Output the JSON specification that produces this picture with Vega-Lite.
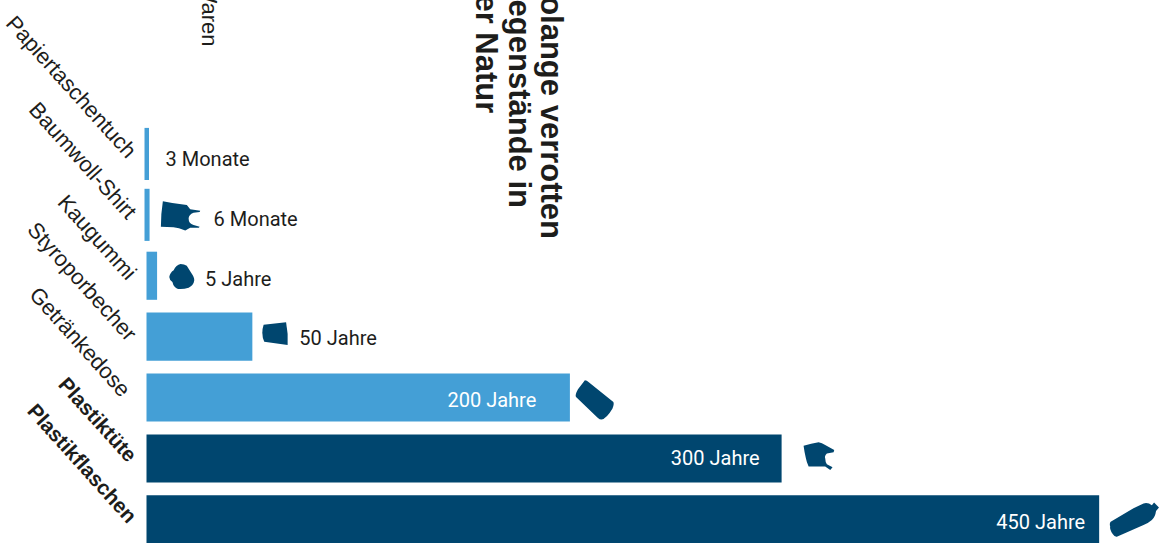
{
  "$schema": "https://vega.github.io/schema/vega-lite/v6.json",
  "width": 1018.5,
  "height": 419.5,
  "padding": {"left": 146.5, "top": 123.5, "right": 0, "bottom": 0},
  "autosize": "none",
  "background": "white",
  "config": {"view": {"stroke": null}},
  "title": {
    "text": ["Solange verrotten", "Gegenstände in", "der Natur"],
    "angle": 90,
    "align": "left",
    "baseline": "middle",
    "anchor": "start",
    "frame": "group",
    "font": "Liberation Sans",
    "fontWeight": "bold",
    "fontSize": 31,
    "lineHeight": 32.5,
    "color": "#1d1d1b",
    "dx": 257,
    "dy": -403.5,
    "offset": 0
  },
  "data": {
    "values": [
      {"Gegenstand": "Papiertaschentuch", "Jahre": 0.25, "Dauer": "3 Monate", "Gruppe": "Sonstige"},
      {"Gegenstand": "Baumwoll-Shirt", "Jahre": 0.5, "Dauer": "6 Monate", "Gruppe": "Sonstige"},
      {"Gegenstand": "Kaugummi", "Jahre": 5, "Dauer": "5 Jahre", "Gruppe": "Sonstige"},
      {"Gegenstand": "Styroporbecher", "Jahre": 50, "Dauer": "50 Jahre", "Gruppe": "Sonstige"},
      {"Gegenstand": "Getränkedose", "Jahre": 200, "Dauer": "200 Jahre", "Gruppe": "Sonstige"},
      {"Gegenstand": "Plastiktüte", "Jahre": 300, "Dauer": "300 Jahre", "Gruppe": "Plastik"},
      {"Gegenstand": "Plastikflaschen", "Jahre": 450, "Dauer": "450 Jahre", "Gruppe": "Plastik"}
    ]
  },
  "encoding": {
    "x": {
      "field": "Jahre",
      "type": "quantitative",
      "scale": {"domain": [0, 481.1], "nice": false, "zero": true},
      "axis": {
        "orient": "top",
        "domain": false,
        "ticks": false,
        "labels": false,
        "grid": false,
        "title": "Waren",
        "titleAngle": 90,
        "titleAlign": "right",
        "titleBaseline": "middle",
        "titleX": 61.5,
        "titleY": -77.5,
        "titleFont": "Liberation Sans",
        "titleFontWeight": "normal",
        "titleFontSize": 22,
        "titleColor": "#1d1d1b"
      }
    },
    "y": {
      "field": "Gegenstand",
      "type": "nominal",
      "sort": null,
      "scale": {"range": [0, 426.3], "paddingInner": 0.21, "paddingOuter": 0.105},
      "axis": {
        "title": null,
        "domain": false,
        "ticks": false,
        "grid": false,
        "labelAngle": 48,
        "labelAlign": "right",
        "labelBaseline": "middle",
        "labelLimit": 400,
        "labelPadding": {"condition": {"test": "datum.value === 'Getränkedose'", "value": 21}, "value": 15},
        "labelOffset": {"condition": {"test": "datum.value === 'Getränkedose'", "value": -4}, "value": 1},
        "labelFont": "Liberation Sans",
        "labelFontSize": {"condition": {"test": "datum.value === 'Plastiktüte' || datum.value === 'Plastikflaschen'", "value": 20.8}, "value": 22},
        "labelColor": "#1d1d1b",
        "labelFontWeight": {"condition": {"test": "datum.value === 'Plastiktüte' || datum.value === 'Plastikflaschen'", "value": "bold"}, "value": "normal"},
        "labelOverlap": false,
        "labelBound": false,
        "labelFlush": false
      }
    }
  },
  "layer": [
    {
      "mark": {"type": "bar"},
      "encoding": {
        "color": {"field": "Gruppe", "type": "nominal", "scale": {"domain": ["Sonstige", "Plastik"], "range": ["#449fd6", "#00466f"]}, "legend": null},
        "stroke": {"field": "Gruppe", "type": "nominal", "scale": {"domain": ["Sonstige", "Plastik"], "range": ["#449fd6", "#00466f"]}, "legend": null},
        "strokeWidth": {"condition": {"test": "datum.Jahre < 1", "value": 4}, "value": 0}
      }
    },
    {
      "transform": [{"filter": "datum.Gegenstand === 'Baumwoll-Shirt'"}],
      "mark": {"type": "point", "filled": true, "opacity": 1, "color": "#00466f", "size": 1547, "xOffset": 33, "yOffset": 0.8,
        "shape": "M-.9,-.73 Q-.3,-.6 .32,-.54 L.49,-.32 L1,-.25 L.97,-.19 L.66,-.15 Q.41,-.05 .41,.14 Q.41,.4 .66,.47 L.97,.56 L.93,.61 L.49,.61 L.24,.75 Q-.1,.62 -.36,.59 L-1,.56 Q-1,-.1 -.9,-.73 Z"}
    },
    {
      "transform": [{"filter": "datum.Gegenstand === 'Kaugummi'"}],
      "mark": {"type": "point", "filled": true, "opacity": 1, "color": "#00466f", "size": 625, "xOffset": 24.7, "yOffset": 0.7,
        "shape": "M-.1,-1 Q.2,-1 .4,-.85 Q.55,-.6 .75,-.3 Q1,.05 1,.3 Q.95,.7 .55,.9 Q.1,1.05 -.3,1 Q-.65,.9 -.75,.45 Q-1,.25 -1,.05 Q-.95,-.3 -.65,-.5 Q-.45,-.95 -.1,-1 Z"}
    },
    {
      "transform": [{"filter": "datum.Gegenstand === 'Styroporbecher'"}],
      "mark": {"type": "point", "filled": true, "opacity": 1, "color": "#00466f", "size": 676, "xOffset": 22.3, "yOffset": -3,
        "shape": "M-.85,-.68 L.88,-.87 Q1.05,0 1,.87 L-.8,.62 Q-1.08,0 -.85,-.68 Z"}
    },
    {
      "transform": [{"filter": "datum.Gegenstand === 'Getränkedose'"}],
      "mark": {"type": "point", "filled": true, "opacity": 1, "color": "#00466f", "size": 1545, "xOffset": 24.8, "yOffset": 2.4,
        "shape": "M-.5,-1 Q-.4,-1 -.3,-.9 L.95,.1 Q1,.2 .9,.45 Q.6,.95 .35,1 Q.25,1 .15,.9 L-.95,-.15 Q-1.02,-.25 -.85,-.55 Z"}
    },
    {
      "transform": [{"filter": "datum.Gegenstand === 'Plastiktüte'"}],
      "mark": {"type": "point", "filled": true, "opacity": 1, "color": "#00466f", "size": 940, "xOffset": 37.3, "yOffset": -2.3,
        "shape": "M-1,-.68 Q-.5,-.8 -.02,-.9 Q.2,-.85 .41,-.73 L1,-.4 L.96,-.25 L.52,-.18 Q.35,0 .41,.14 Q.42,.4 .52,.53 L.89,.73 L.74,.9 L.41,.68 L-.67,.68 Q-.8,.4 -.85,.14 Q-.95,-.3 -1,-.68 Z"}
    },
    {
      "transform": [{"filter": "datum.Gegenstand === 'Plastikflaschen'"}],
      "mark": {"type": "point", "filled": true, "opacity": 1, "color": "#00466f", "size": 2401, "xOffset": 35.3, "yOffset": 0,
        "shape": "M-.97,.1 L-.04,-.45 L.37,-.65 Q.55,-.7 .71,-.58 L.8,-.69 L1,-.48 L.88,-.34 Q.85,-.1 .71,.03 Q.55,.17 .37,.23 L-.72,.71 Q-.82,.72 -.88,.61 Q-1.02,.4 -.99,.3 Q-1.03,.15 -.97,.1 Z"}
    },
    {
      "transform": [{"filter": "datum.Gegenstand === 'Papiertaschentuch'"}],
      "mark": {"type": "text", "align": "left", "baseline": "middle", "font": "Roboto", "fontSize": 20, "color": "#1d1d1b", "dx": 18.5, "dy": 6},
      "encoding": {"text": {"field": "Dauer"}}
    },
    {
      "transform": [{"filter": "datum.Gegenstand === 'Baumwoll-Shirt'"}],
      "mark": {"type": "text", "align": "left", "baseline": "middle", "font": "Roboto", "fontSize": 20, "color": "#1d1d1b", "dx": 66, "dy": 5.5},
      "encoding": {"text": {"field": "Dauer"}}
    },
    {
      "transform": [{"filter": "datum.Gegenstand === 'Kaugummi'"}],
      "mark": {"type": "text", "align": "left", "baseline": "middle", "font": "Roboto", "fontSize": 20, "color": "#1d1d1b", "dx": 48, "dy": 4.5},
      "encoding": {"text": {"field": "Dauer"}}
    },
    {
      "transform": [{"filter": "datum.Gegenstand === 'Styroporbecher'"}],
      "mark": {"type": "text", "align": "left", "baseline": "middle", "font": "Roboto", "fontSize": 20, "color": "#1d1d1b", "dx": 47, "dy": 2.5},
      "encoding": {"text": {"field": "Dauer"}}
    },
    {
      "transform": [{"filter": "datum.Gegenstand === 'Getränkedose'"}],
      "mark": {"type": "text", "align": "right", "baseline": "middle", "font": "Roboto", "fontSize": 20, "color": "white", "dx": -33.6, "dy": 3.5},
      "encoding": {"text": {"field": "Dauer"}}
    },
    {
      "transform": [{"filter": "datum.Gegenstand === 'Plastiktüte'"}],
      "mark": {"type": "text", "align": "right", "baseline": "middle", "font": "Roboto", "fontSize": 20, "color": "white", "dx": -22, "dy": 0.5},
      "encoding": {"text": {"field": "Dauer"}}
    },
    {
      "transform": [{"filter": "datum.Gegenstand === 'Plastikflaschen'"}],
      "mark": {"type": "text", "align": "right", "baseline": "middle", "font": "Roboto", "fontSize": 20, "color": "white", "dx": -14, "dy": 3.5},
      "encoding": {"text": {"field": "Dauer"}}
    }
  ]
}
